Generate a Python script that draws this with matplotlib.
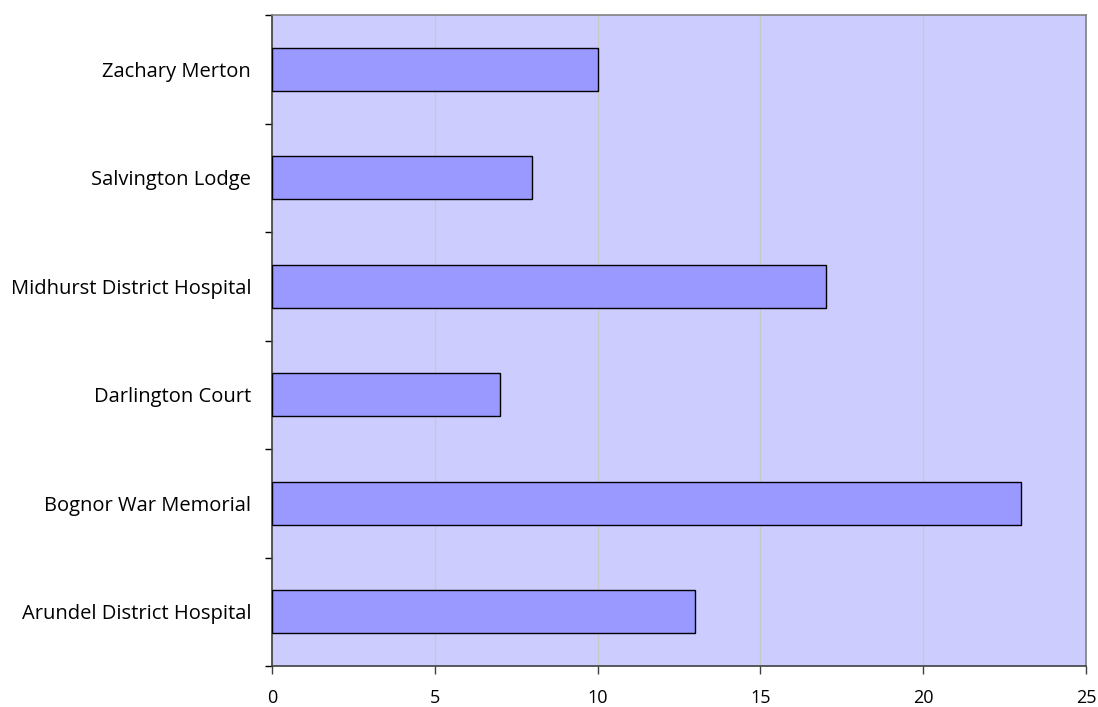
import matplotlib
matplotlib.use('Agg')
import matplotlib.pyplot as plt
import numpy as np

# Werte
standorte = ['Arundel District Hospital', 'Bognor War Memorial', 'Darlington Court',
             'Midhurst District Hospital', 'Salvington Lodge', 'Zachary Merton']
werte = [13, 23, 7, 17, 8, 10]
x_ticks = [0, 5, 10, 15, 20, 25]

plt.rcParams['font.family'] = ['Open Sans', 'DejaVu Sans']

fig = plt.figure(figsize=(10.98, 7.07), dpi=100)
ax = fig.add_axes([272/1098, 1 - 666/707, (1086 - 272)/1098, (666 - 15)/707])
ax.set_facecolor('#CCCCFF')

pos = np.arange(len(standorte))
ax.barh(pos, werte, height=0.4, color='#9999FF', edgecolor='black', linewidth=1, zorder=3)

ax.set_xlim(0, 25)
ax.set_ylim(-0.5, len(standorte) - 0.5)
ax.set_xticks(x_ticks)
ax.set_xticklabels([str(t) for t in x_ticks], fontsize=13)
ax.xaxis.grid(True, color='#C8C8C8', linewidth=1, zorder=0)

# Kategorien: Ticks an den Grenzen, Beschriftung in der Mitte
ax.set_yticks(np.arange(-0.5, len(standorte), 1.0))
ax.set_yticklabels([])
ax.set_yticks(pos, minor=True)
ax.set_yticklabels(standorte, minor=True, fontsize=14.5)
ax.tick_params(axis='y', which='minor', length=0, pad=15)
ax.tick_params(axis='y', which='major', length=5, direction='out', color='black', width=1)
ax.tick_params(axis='x', length=6, direction='out', pad=10.5, color='#404040', width=1)

for side in ['left', 'bottom']:
    ax.spines[side].set_color('#404040')
    ax.spines[side].set_linewidth(1.2)
for side in ['top', 'right']:
    ax.spines[side].set_color('#808080')
    ax.spines[side].set_linewidth(1.2)

fig.savefig('out.png', dpi=100)
